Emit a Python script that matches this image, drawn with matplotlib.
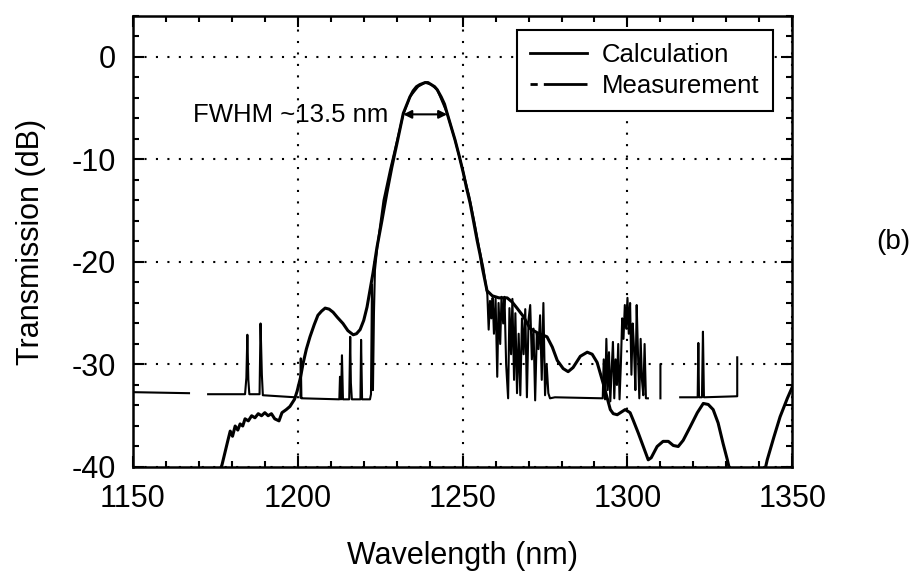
import matplotlib
matplotlib.use('Agg')
import matplotlib.pyplot as plt
import numpy as np
from matplotlib.ticker import MultipleLocator

nan = np.nan

# calculated transmission (smooth curve)
calc_wl = [1175, 1177, 1178.8, 1179.5, 1180.2, 1181, 1181.8, 1182.5, 1183.3, 1184,
           1185, 1186, 1187, 1188, 1189, 1190, 1191, 1192, 1193, 1194.3,
           1195.2, 1196.5, 1197.6, 1199, 1199.8, 1200.8, 1201.6, 1202.6, 1203.7, 1205,
           1206.1, 1207.2, 1208.3, 1209.5, 1210.7, 1212, 1213.7, 1215.2, 1216.8, 1217.8,
           1218.9, 1220, 1221, 1222.8, 1224, 1225.5, 1227, 1228.5, 1230.1, 1232,
           1234, 1235, 1236, 1237, 1238.6, 1239.5, 1240.5, 1241.5, 1242.3, 1243.5,
           1244.5, 1245.3, 1247.7, 1249, 1250.2, 1251.2, 1252.3, 1253.3, 1254.4, 1255.3,
           1256, 1257.4, 1259, 1261, 1263.5, 1265, 1266.5, 1268.4, 1270.5, 1272.6,
           1274.1, 1275.6, 1277.2, 1278.7, 1280.5, 1282, 1283.5, 1285.7, 1287.8, 1289.3,
           1290.8, 1292.6, 1293.8, 1294.8, 1295.7, 1296.9, 1299.3, 1300.8, 1301.7, 1303.3,
           1304.8, 1306.3, 1307.2, 1309, 1310.8, 1312.4, 1313.9, 1315.4, 1316.9, 1319,
           1321.2, 1323, 1324.5, 1326, 1327.5, 1329, 1330.3, 1331.5, 1341.2, 1342.4,
           1344.4, 1346.3, 1348.5, 1350]
calc_db = [-41.5, -39.8, -37.4, -36.5, -37.0, -36.0, -36.4, -35.8, -36.0, -35.3,
           -35.5, -35.0, -35.2, -34.8, -35.0, -34.7, -35.0, -34.8, -35.3, -35.5,
           -34.7, -34.4, -34.1, -33.4, -32.6, -31.3, -29.9, -28.5, -27.3, -26.1,
           -25.2, -24.8, -24.5, -24.6, -24.9, -25.4, -26.0, -26.7, -27.1, -27.0,
           -26.6, -25.7, -24.4, -21.1, -18.6, -16.0, -13.3, -10.8, -8.4, -5.5,
           -3.9, -3.3, -2.9, -2.7, -2.5, -2.5, -2.7, -2.9, -3.2, -3.9,
           -4.6, -5.5, -8.1, -9.7, -11.3, -12.8, -14.3, -16.0, -17.9, -19.3,
           -20.6, -22.8, -23.3, -23.5, -23.5, -23.9, -24.5, -25.3, -26.5, -26.9,
           -27.1, -27.3, -28.3, -29.6, -30.4, -30.7, -30.3, -29.2, -28.8, -29.0,
           -29.8, -31.8, -33.2, -34.4, -34.8, -34.9, -34.4, -34.7, -35.4, -36.7,
           -38.0, -39.3, -39.1, -38.0, -37.5, -37.5, -37.9, -38.0, -37.4, -36.1,
           -34.7, -33.8, -33.9, -34.4, -35.7, -37.7, -39.3, -41.0, -41.0, -39.3,
           -37.1, -35.1, -33.3, -32.2]

# measured transmission (noisy curve, nan = gap in the trace)
meas_wl = [1150, 1167, nan, 1172.8, 1184, 1184.4, 1184.7, 1185.0, 1185.3, 1188.4,
           1188.7, 1189.1, 1189.4, 1199.2, nan, 1200.8, 1200.9, 1201.1, 1201.4, 1212.6,
           1212.8, 1213.1, 1213.4, 1213.7, 1215.6, 1215.9, 1216.1, 1216.4, 1216.7, 1219.0,
           1219.2, 1219.5, 1221.9, 1222.2, 1222.5, 1222.8, 1223.1, 1223.4, 1224.2, 1226,
           1228, 1230, 1232, 1234, 1236.5, 1238.6, 1240.5, 1242.3, 1245.3, 1247.7,
           1250, 1252, 1253.5, 1255, 1256.3, 1257.2,
           1257.5, 1257.9, 1258.3, 1258.7, 1259.1, 1259.5, 1260, 1260.5, 1260.9, 1261.4,
           1261.8, 1262.3, 1262.7, 1263.2, 1263.8, 1264.2, 1264.7, 1265.1, 1265.6, 1266,
           1266.5, 1267, 1267.5, 1268, 1268.5, 1269, 1269.5, 1270, 1270.5, 1271,
           1271.5, 1272, 1272.5, 1273, 1273.5, 1274, 1274.5, 1275, 1275.5, 1276,
           1276.5, 1278, 1292.5,
           1292.8, 1293.2, 1293.6, 1294, 1294.4, 1294.8, 1295.2, 1295.6, 1296, 1296.4,
           1296.8, 1297.2, 1297.6, 1298, 1298.4, 1298.8, 1299.2, 1299.6, 1300, 1300.4,
           1300.8, 1301.2, 1301.6, 1302, 1302.4, 1302.8, 1303.2, 1303.6, 1304, 1304.4,
           1304.8, 1305.2, 1305.6, 1306.2, nan, 1310, 1310, nan,
           1316, 1321.3, 1321.5, 1321.7, 1322.6, 1322.9, 1323.2, 1333.1, 1333.3, 1333.3]
meas_db = [-32.7, -32.8, nan, -32.9, -32.9, -31.3, -27.1, -31.5, -32.9, -32.9,
           -26.0, -31.0, -33.0, -33.2, nan, -33.2, -29.4, -33.3, -33.3, -33.4,
           -31.2, -33.4, -29.1, -33.4, -33.4, -27.3, -31.8, -33.4, -33.4, -33.4,
           -27.6, -33.4, -33.4, -32.9, -22.2, -32.5, -25.0, -20.8, -18.3, -14.0,
           -11.0, -8.3, -5.6, -3.9, -2.9, -2.5, -2.7, -3.2, -5.5, -8.1,
           -11.0, -13.6, -16.0, -18.6, -20.6, -22.5,
           -23.2, -26.6, -23.8, -25.5, -23.5, -27.0, -23.6, -31.2, -24.0, -28.0,
           -23.4, -26.0, -23.4, -30.0, -33.3, -24.5, -29.0, -23.6, -31.5, -25.0,
           -32.8, -27.0, -33.0, -25.5, -29.0, -24.6, -33.2, -25.6, -24.2, -29.5,
           -26.5, -33.5, -27.0, -28.5, -25.2, -31.5, -24.0, -33.0, -30.0, -32.8,
           -33.3, -33.2, -33.3,
           -29.5, -33.4, -27.5, -32.5, -28.8, -33.6, -30.5, -27.8, -33.3, -29.5,
           -32.0, -28.0, -33.4, -30.0, -25.5, -27.5, -24.2, -26.5, -23.5, -27.0,
           -24.0, -31.0, -26.0, -28.5, -32.5, -24.2, -29.0, -33.3, -27.5, -31.5,
           -33.0, -28.0, -33.3, -33.3, nan, -33.3, -30.0, nan,
           -33.2, -33.2, -27.9, -33.2, -33.2, -26.8, -33.2, -33.1, -33.1, -29.3]

plt.rcParams['font.family'] = ['Liberation Sans', 'DejaVu Sans']
plt.rcParams['axes.unicode_minus'] = False

fig = plt.figure(figsize=(9.17, 5.82), dpi=100)
ax = fig.add_axes([0.145, 0.1976, 0.719, 0.775])

ax.plot(calc_wl, calc_db, color='black', lw=2.2, label='Calculation')
ax.plot(meas_wl, meas_db, color='black', lw=1.5, label='Measurement')

ax.set_xlim(1150, 1350)
ax.set_ylim(-40, 4)
ax.xaxis.set_major_locator(MultipleLocator(50))
ax.xaxis.set_minor_locator(MultipleLocator(10))
ax.yaxis.set_major_locator(MultipleLocator(10))
ax.yaxis.set_minor_locator(MultipleLocator(2))
ax.tick_params(which='both', direction='in', top=True, right=True, width=1.5,
               labelsize=22)
ax.tick_params(which='major', length=8)
ax.tick_params(which='minor', length=4)
ax.tick_params(axis='x', pad=12)
ax.tick_params(axis='y', pad=12)
for s in ax.spines.values():
    s.set_linewidth(1.8)
ax.grid(True, which='major', color='black', linestyle=(0, (1, 4.5)), lw=1.5)

ax.set_xlabel('Wavelength (nm)', fontsize=22, labelpad=20)
ax.set_ylabel('Transmission (dB)', fontsize=22, labelpad=19)

leg = ax.legend(loc='upper right', bbox_to_anchor=(0.970, 0.969), borderaxespad=0,
                fontsize=18.5, frameon=True, fancybox=False, edgecolor='black',
                framealpha=1, handlelength=2.2, handletextpad=0.6,
                labelspacing=0.3, borderpad=0.5)
leg.get_frame().set_linewidth(1.5)
leg.get_lines()[0].set_linewidth(2.0)
leg.get_lines()[1].set_linewidth(2.0)
leg.get_lines()[1].set_dashes([2.6, 2.2, 16, 2])

# FWHM marker
ax.annotate('', xy=(1232, -5.6), xytext=(1245.3, -5.6),
            arrowprops=dict(arrowstyle='<|-|>', color='black', lw=1.5,
                            mutation_scale=12, shrinkA=0, shrinkB=0))
ax.text(1227.4, -5.7, 'FWHM ~13.5 nm', fontsize=18.5, ha='right', va='center')

fig.text(0.974, 0.584, '(b)', fontsize=20, ha='center', va='center')

fig.savefig('out.png', dpi=100)
